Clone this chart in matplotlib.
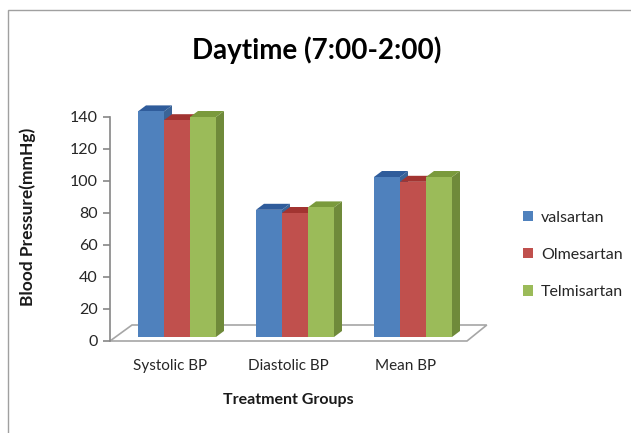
import numpy as np
import matplotlib
matplotlib.use('Agg')
import matplotlib.pyplot as plt
from matplotlib.patches import Polygon, Patch

plt.rcParams['font.family'] = ['Lato', 'DejaVu Sans']

# 数据
groups = ['Systolic BP', 'Diastolic BP', 'Mean BP']
drugs = ['valsartan', 'Olmesartan', 'Telmisartan']
valsartan = [141, 79.5, 100]
olmesartan = [135.5, 77.5, 97]
telmisartan = [137.5, 81, 100]
series = [valsartan, olmesartan, telmisartan]

front_colors = ['#4F81BD', '#C0504D', '#9BBB59']
side_colors = ['#3A6497', '#953B39', '#6F8A3A']
top_colors = ['#2F5C9B', '#A23431', '#7A9A3C']

W, H = 631, 433
fig = plt.figure(figsize=(W / 100, H / 100), dpi=100)

# 坐标区: 像素位置换算
px_per_unit_y = 1.6
px_per_group = 118.0
x_left_px, x_right_px = 110, 487
y0_px = 341
ymax = 150
x0_data = (x_left_px - 177) / px_per_group
x1_data = (x_right_px - 177) / px_per_group
ax = fig.add_axes([x_left_px / W, (H - y0_px) / H,
                   (x_right_px - x_left_px) / W, ymax * px_per_unit_y / H])
ax.set_xlim(x0_data, x1_data)
ax.set_ylim(0, ymax)

# 边框
fig.patches.append(plt.Rectangle((8 / W, -0.1), 1.2, 1 - 10 / H + 0.1,
                                 transform=fig.transFigure, fill=False,
                                 edgecolor='#A0A0A0', linewidth=1.0))

# 底面 (3D 地板)
fdx = 22 / px_per_group
fdy = 16 / px_per_unit_y
floor_w = (467 - 110) / px_per_group
floor = Polygon([(x0_data, 0), (x0_data + floor_w, 0),
                 (x0_data + floor_w + fdx * 0.9, fdy),
                 (x0_data + fdx, fdy)],
                closed=True, facecolor='white', edgecolor='#A6A6A6',
                linewidth=1.2, zorder=1, clip_on=False)
ax.add_patch(floor)

# 3D 柱子
bw = 26 / px_per_group
dx = 8 / px_per_group
dy = 6 / px_per_unit_y
base = 2.5
x = np.arange(len(groups))
z = 2
for i in range(len(groups)):
    for j, vals in enumerate(series):
        xs = x[i] - 1.5 * bw + j * bw
        top = base + vals[i]
        ax.bar(xs, vals[i], bottom=base, width=bw, align='edge',
               color=front_colors[j], linewidth=0, zorder=z)
        side = Polygon([(xs + bw, base), (xs + bw + dx, base + dy),
                        (xs + bw + dx, top + dy), (xs + bw, top)],
                       closed=True, facecolor=side_colors[j], linewidth=0,
                       zorder=z - 0.5)
        cap = Polygon([(xs, top), (xs + dx, top + dy), (xs + bw + dx, top + dy),
                       (xs + bw, top)],
                      closed=True, facecolor=top_colors[j], linewidth=0,
                      zorder=z - 0.5)
        ax.add_patch(side)
        ax.add_patch(cap)
        z += 1

# 坐标轴
for s in ['top', 'right', 'bottom']:
    ax.spines[s].set_visible(False)
ax.spines['left'].set_bounds(0, 140)
ax.spines['left'].set_color('#868686')
ax.spines['left'].set_linewidth(1.2)
ax.set_yticks(np.arange(0, 141, 20))
ax.tick_params(axis='y', length=5, width=1.2, color='#868686',
               labelsize=11.5, labelcolor='#262626', pad=4)
ax.set_xticks([])

for i, g in enumerate(groups):
    ax.text(x[i] - 0.06, -(366 - y0_px) / px_per_unit_y, g, ha='center',
            va='center', fontsize=11, color='#262626', clip_on=False)

fig.text(317 / W, 1 - 50 / H, 'Daytime (7:00-2:00)', ha='center', va='center',
         fontsize=20, fontweight='bold', color='black')
fig.text(288 / W, 1 - 400 / H, 'Treatment Groups', ha='center', va='center',
         fontsize=11.5, fontweight='bold', color='#1a1a1a')
fig.text(28 / W, 1 - 217 / H, 'Blood Pressure(mmHg)', ha='center', va='center',
         rotation=90, fontsize=12.5, fontweight='bold', color='#1a1a1a')

handles = [Patch(facecolor=c, edgecolor='none') for c in front_colors]
fig.legend(handles, drugs, loc='center left',
           bbox_to_anchor=(509 / W, 1 - 255 / H), frameon=False,
           fontsize=11.5, handlelength=0.6, handleheight=0.6,
           labelspacing=1.45, handletextpad=0.5, labelcolor='#262626')

fig.savefig('out.png', dpi=100)
